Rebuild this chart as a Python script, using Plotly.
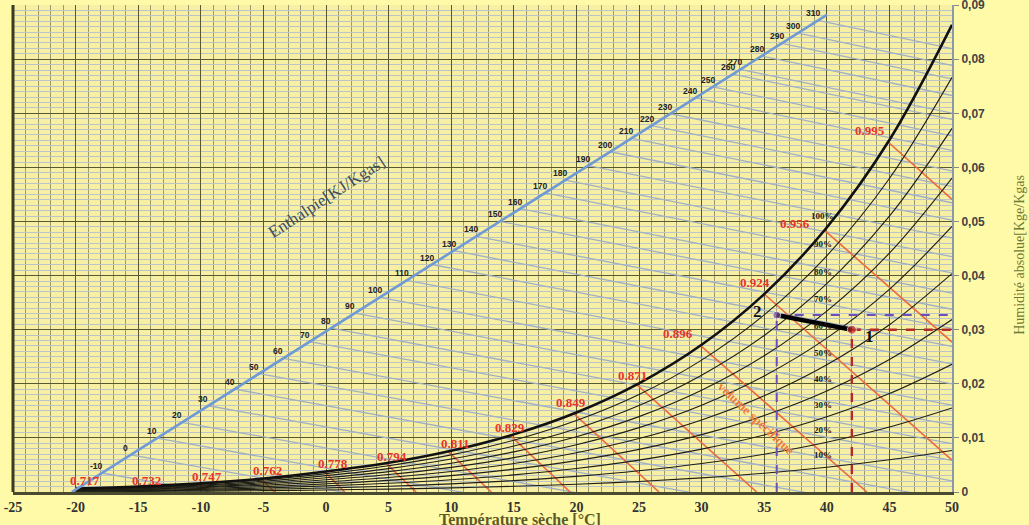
import numpy as np
import plotly.graph_objects as go

# ---------------- data ----------------
temps = [-20, -15, -10, -5, 0, 5, 10, 15, 20, 25, 30, 35, 40, 45, 50]

w_100 = [0.00064, 0.00102, 0.00160, 0.00248, 0.00378, 0.00540, 0.00763, 0.01065, 0.01470, 0.02009, 0.02721, 0.03658, 0.04889, 0.06506, 0.08635]
w_90 = [0.00057, 0.00092, 0.00144, 0.00223, 0.00340, 0.00486, 0.00686, 0.00957, 0.01320, 0.01802, 0.02438, 0.03273, 0.04366, 0.05795, 0.07665]
w_80 = [0.00051, 0.00081, 0.00128, 0.00198, 0.00302, 0.00432, 0.00609, 0.00849, 0.01170, 0.01597, 0.02158, 0.02893, 0.03851, 0.05098, 0.06721]
w_70 = [0.00045, 0.00071, 0.00112, 0.00173, 0.00264, 0.00377, 0.00532, 0.00742, 0.01022, 0.01393, 0.01880, 0.02517, 0.03344, 0.04415, 0.05803]
w_60 = [0.00038, 0.00061, 0.00096, 0.00149, 0.00226, 0.00323, 0.00456, 0.00635, 0.00874, 0.01190, 0.01605, 0.02145, 0.02844, 0.03747, 0.04908]
w_50 = [0.00032, 0.00051, 0.00080, 0.00124, 0.00188, 0.00269, 0.00379, 0.00528, 0.00726, 0.00988, 0.01331, 0.01777, 0.02352, 0.03091, 0.04037]
w_40 = [0.00025, 0.00041, 0.00064, 0.00099, 0.00151, 0.00215, 0.00303, 0.00422, 0.00580, 0.00788, 0.01061, 0.01414, 0.01868, 0.02449, 0.03188]
w_30 = [0.00019, 0.00030, 0.00048, 0.00074, 0.00113, 0.00161, 0.00227, 0.00316, 0.00434, 0.00589, 0.00792, 0.01054, 0.01390, 0.01819, 0.02361]
w_20 = [0.00013, 0.00020, 0.00032, 0.00050, 0.00075, 0.00107, 0.00151, 0.00210, 0.00289, 0.00392, 0.00526, 0.00699, 0.00920, 0.01201, 0.01554]
w_10 = [0.00006, 0.00010, 0.00016, 0.00025, 0.00038, 0.00054, 0.00076, 0.00105, 0.00144, 0.00195, 0.00262, 0.00347, 0.00457, 0.00595, 0.00768]

rh_labels = ["100%", "90%", "80%", "70%", "60%", "50%", "40%", "30%", "20%", "10%"]
rh_curves = [w_100, w_90, w_80, w_70, w_60, w_50, w_40, w_30, w_20, w_10]
rh_label_T = 40

# specific volume lines (m3/kg)
vol_labels = ["0.717", "0.732", "0.747", "0.762", "0.778", "0.794", "0.811", "0.829", "0.849", "0.871", "0.896", "0.924", "0.956", "0.995"]
vol_T_top = [-20.0, -15.1, -10.1, -5.2, -0.1, 4.8, 9.75, 14.7, 19.8, 24.8, 29.9, 35.0, 39.8, 44.9]
vol_w_top = [0.0006, 0.0010, 0.0016, 0.0024, 0.0037, 0.0053, 0.0075, 0.0105, 0.0145, 0.0199, 0.0271, 0.0366, 0.0484, 0.0647]
vol_T_end = [-20.0, -14.7, -9.4, -4.1, 1.5, 7.2, 13.2, 19.5, 26.6, 34.4, 43.2, 50.0, 50.0, 50.0]
vol_w_end = [0, 0, 0, 0, 0, 0, 0, 0, 0, 0, 0, 0.0059, 0.0277, 0.0541]

# enthalpy scale (blue line) and enthalpy lines
blue_T = [-20.3, 40.0]
blue_w = [0.0, 0.0882]
enth_labels = [-10, 0, 10, 20, 30, 40, 50, 60, 70, 80, 90, 100, 110, 120, 130, 140, 150, 160,
               170, 180, 190, 200, 210, 220, 230, 240, 250, 260, 270, 280, 290, 300, 310]
enth_T_start = [-17.9, -15.6, -13.5, -11.5, -9.4, -7.3, -5.35, -3.4, -1.3, 0.4, 2.3, 4.3, 6.45, 8.45,
                10.2, 12.0, 13.9, 15.5, 17.5, 19.1, 20.95, 22.7, 24.4, 26.0, 27.5, 29.5, 30.9, 32.5,
                33.1, 34.8, 36.4, 37.7, 39.3]
enth_slope_base = 0.00040   # read slope of the isenthalps (per degC) near w = 0
enth_slope_gain = 0.0010    # slope increase with humidity

# process 2 -> 1
proc_labels = ["2", "1"]
proc_T = [36.0, 42.0]
proc_w = [0.0327, 0.0300]

x_ticks = [-25, -20, -15, -10, -5, 0, 5, 10, 15, 20, 25, 30, 35, 40, 45, 50]
y_ticks = [0, 0.01, 0.02, 0.03, 0.04, 0.05, 0.06, 0.07, 0.08, 0.09]
y_ticktext = ["0", "0,01", "0,02", "0,03", "0,04", "0,05", "0,06", "0,07", "0,08", "0,09"]
X_RANGE = [-25, 50]
Y_RANGE = [0, 0.09002]

# label offsets (pixels) for the specific-volume labels
vol_label_dx = [9, 10, 7, 7, 8, 6, 7, 0, -3, -4, -22, -9, -29, -18]
vol_label_dy = [8, 6, 7, 9, 8, 7, 8, 8, 11, 9, 12, 12, 7, 11]

# ---------------- figure ----------------
fig = go.Figure()

# enthalpy lines
enth_w_start = np.interp(enth_T_start, blue_T, blue_w)
ex, ey = [], []
for Ts, ws in zip(enth_T_start, enth_w_start):
    k = enth_slope_base + enth_slope_gain * ws
    ex += [Ts, X_RANGE[1], None]
    ey += [ws, ws - k * (X_RANGE[1] - Ts), None]
fig.add_trace(go.Scatter(x=ex, y=ey, mode="lines", line=dict(color="#9fb0c4", width=1.3),
                         hoverinfo="skip", showlegend=False))

# specific volume lines
vx, vy = [], []
for a, b, c, d in zip(vol_T_top, vol_w_top, vol_T_end, vol_w_end):
    vx += [a, c, None]
    vy += [b, d, None]
fig.add_trace(go.Scatter(x=vx, y=vy, mode="lines", line=dict(color="#ec6a3c", width=1.6),
                         hoverinfo="skip", showlegend=False))

# RH curves
for lab, curve in zip(rh_labels[1:], rh_curves[1:]):
    fig.add_trace(go.Scatter(x=temps, y=curve, mode="lines",
                             line=dict(color="#1e1e14", width=1.1, shape="spline", smoothing=1.0),
                             hoverinfo="skip", showlegend=False, name=lab))
fig.add_trace(go.Scatter(x=temps, y=w_100, mode="lines",
                         line=dict(color="#111111", width=2.6, shape="spline", smoothing=1.0),
                         hoverinfo="skip", showlegend=False, name="100%"))

# blue enthalpy scale line
fig.add_trace(go.Scatter(x=blue_T, y=blue_w, mode="lines", line=dict(color="#6f9ad6", width=2.6),
                         hoverinfo="skip", showlegend=False))

# dashed guides for the two states
fig.add_trace(go.Scatter(x=[proc_T[0], proc_T[0], None, proc_T[0], X_RANGE[1]],
                         y=[Y_RANGE[0], proc_w[0], None, proc_w[0], proc_w[0]],
                         mode="lines", line=dict(color="#6a50b8", width=2, dash="dash"),
                         hoverinfo="skip", showlegend=False))
fig.add_trace(go.Scatter(x=[proc_T[1], proc_T[1], None, proc_T[1], X_RANGE[1]],
                         y=[Y_RANGE[0], proc_w[1], None, proc_w[1], proc_w[1]],
                         mode="lines", line=dict(color="#b32b2b", width=2.4, dash="dash"),
                         hoverinfo="skip", showlegend=False))

# process line
fig.add_trace(go.Scatter(x=proc_T, y=proc_w, mode="lines", line=dict(color="#000000", width=4.5),
                         hoverinfo="skip", showlegend=False))
fig.add_trace(go.Scatter(x=proc_T, y=proc_w, mode="markers",
                         marker=dict(color=["#7a4a9a", "#c0302a"], size=[8, 9]),
                         hoverinfo="skip", showlegend=False))

# ---------------- annotations ----------------
ann = []
# RH labels
idx = temps.index(rh_label_T)
for lab, curve in zip(rh_labels, rh_curves):
    ann.append(dict(x=rh_label_T, y=curve[idx], text=lab, showarrow=False, xshift=-4, yshift=12,
                    font=dict(family="Liberation Serif", size=9, color="#1a1a1a", weight="bold")))
# volume labels
for lab, T, w, dx, dy in zip(vol_labels, vol_T_top, vol_w_top, vol_label_dx, vol_label_dy):
    ann.append(dict(x=T, y=w, text=lab, showarrow=False, xshift=dx, yshift=dy,
                    font=dict(family="Liberation Serif", size=13, color="#e8342a", weight="bold")))
# enthalpy labels
for lab, T, w in zip(enth_labels, enth_T_start, enth_w_start):
    ann.append(dict(x=T, y=w, text=str(lab), showarrow=False, xshift=-5, yshift=7,
                    font=dict(family="Liberation Sans", size=8.5, color="#222222", weight="bold")))
# state labels
ann.append(dict(x=proc_T[0], y=proc_w[0], text=proc_labels[0], showarrow=False, xshift=-19, yshift=4,
                font=dict(family="Liberation Serif", size=17, color="#111111", weight="bold")))
ann.append(dict(x=proc_T[1], y=proc_w[1], text=proc_labels[1], showarrow=False, xshift=18, yshift=-7,
                font=dict(family="Liberation Serif", size=17, color="#111111", weight="bold")))
# rotated titles
ann.append(dict(x=0.0, y=0.0545, text="Enthalpie[KJ/Kgas]", showarrow=False, textangle=-33,
                font=dict(family="Liberation Serif", size=17, color="#3d4e5e")))
ann.append(dict(x=34.35, y=0.0135, text="volume spécifique", showarrow=False, textangle=43,
                font=dict(family="Liberation Serif", size=13, color="#f07a3a", weight="bold")))
# axis titles
ann.append(dict(xref="paper", yref="paper", x=0.54, y=0, yanchor="top", yshift=-17,
                text="Température sèche [°C]", showarrow=False,
                font=dict(family="Liberation Serif", size=16, color="#5e5a28", weight="bold")))
ann.append(dict(xref="paper", yref="paper", x=1, y=0.487, xanchor="center", xshift=68,
                text="Humidité absolue[Kge/Kgas", showarrow=False, textangle=-90,
                font=dict(family="Liberation Serif", size=14, color="#6b7a34")))

fig.update_layout(
    width=1029, height=525,
    margin=dict(l=13, r=77, t=5, b=33),
    paper_bgcolor="#FFFAA8",
    plot_bgcolor="#F7EFA4",
    showlegend=False,
    annotations=ann,
    shapes=[dict(type="line", xref="paper", yref="paper", x0=0, x1=0, y0=0, y1=1,
                 line=dict(color="#3b3b1f", width=3))],
)
fig.update_xaxes(
    range=X_RANGE, tickvals=x_ticks, ticktext=[str(t) for t in x_ticks], automargin=False,
    ticklabeloverflow="allow",
    showgrid=True, gridcolor="#5a5a32", gridwidth=1.4,
    minor=dict(dtick=1, showgrid=True, gridcolor="#9c9a6a", gridwidth=1),
    showline=True, linecolor="#4a4a30", linewidth=2.5, zeroline=False, ticks="",
    tickfont=dict(family="Liberation Serif", size=14, color="#333333", weight="bold"),
)
fig.update_yaxes(
    range=Y_RANGE, side="right", tickvals=y_ticks, ticktext=y_ticktext, automargin=False,
    ticklabeloverflow="allow",
    showgrid=True, gridcolor="#5a5a32", gridwidth=1.4,
    minor=dict(dtick=0.001, showgrid=True, gridcolor="#bcc4c8", gridwidth=1),
    showline=True, linecolor="#8a9aa8", linewidth=2, zeroline=False,
    ticks="outside", ticklen=5, tickcolor="#888888",
    tickfont=dict(family="Liberation Sans", size=12, color="#444444", weight="bold"),
)

fig.write_html("out.html", config={"displayModeBar": False},
               post_script="document.body.style.margin='0';document.body.style.overflow='hidden';"
                           "document.body.style.background='#FFFAA8';")
